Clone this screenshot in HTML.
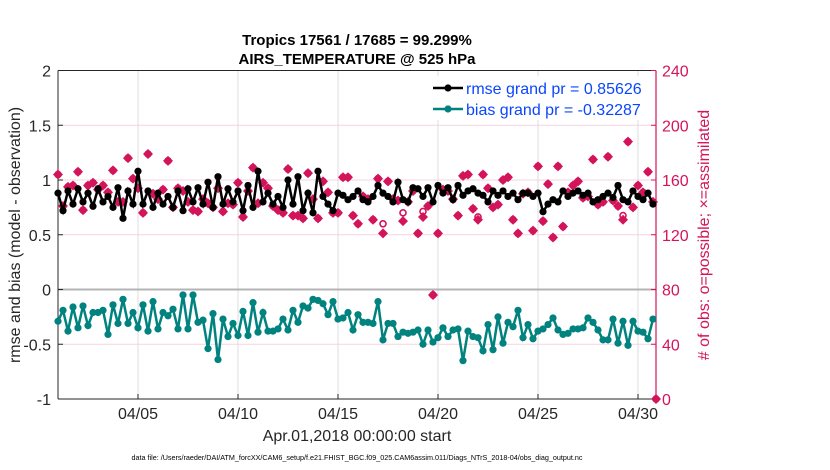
<!DOCTYPE html>
<html><head><meta charset="utf-8"><style>
body{margin:0;background:#fff;}
svg{display:block;font-family:"Liberation Sans",sans-serif;}
</style></head><body>
<svg id="chart" width="830" height="470" viewBox="0 0 830 470"></svg>
<script>
const rmse=[0.88,0.72,0.90,0.78,0.92,0.80,0.88,0.76,0.92,0.80,
0.85,0.75,0.93,0.65,0.90,0.78,1.08,0.78,0.90,0.75,
0.88,0.78,0.85,0.75,0.90,0.72,0.92,0.80,0.93,0.78,
0.98,0.75,1.03,0.78,0.92,0.80,0.90,0.72,0.95,0.75,
1.08,0.80,0.88,0.78,0.85,0.75,1.00,0.78,1.03,0.72,
0.88,0.70,1.08,0.85,0.78,0.72,0.88,0.86,0.82,0.85,
0.90,0.82,0.80,0.85,0.95,0.88,0.85,0.80,0.98,0.82,
0.80,0.93,0.92,0.85,0.93,0.80,0.95,0.88,0.93,0.82,
0.95,0.86,0.90,0.92,0.88,0.86,0.80,0.90,0.86,0.90,
0.85,0.88,0.82,0.88,0.88,0.85,0.88,0.71,0.78,0.82,
0.80,0.90,0.85,0.88,0.90,0.86,0.88,0.80,0.82,0.85,
0.88,0.84,0.95,0.82,0.80,0.90,0.85,0.82,0.88,0.78];
const bias=[-0.29,-0.19,-0.38,-0.16,-0.35,-0.15,-0.33,-0.21,-0.21,-0.19,
-0.41,-0.14,-0.31,-0.09,-0.31,-0.21,-0.35,-0.14,-0.38,-0.11,
-0.36,-0.21,-0.24,-0.18,-0.36,-0.05,-0.36,-0.05,-0.30,-0.28,
-0.54,-0.22,-0.64,-0.27,-0.43,-0.31,-0.42,-0.20,-0.42,-0.12,
-0.39,-0.21,-0.38,-0.38,-0.36,-0.27,-0.37,-0.19,-0.30,-0.15,
-0.17,-0.09,-0.10,-0.13,-0.23,-0.11,-0.27,-0.26,-0.21,-0.37,
-0.23,-0.30,-0.30,-0.31,-0.11,-0.46,-0.31,-0.31,-0.43,-0.39,
-0.40,-0.39,-0.37,-0.50,-0.37,-0.48,-0.44,-0.35,-0.43,-0.37,
-0.36,-0.65,-0.38,-0.43,-0.44,-0.56,-0.32,-0.55,-0.25,-0.49,
-0.30,-0.34,-0.19,-0.44,-0.32,-0.45,-0.38,-0.36,-0.32,-0.26,
-0.37,-0.41,-0.40,-0.36,-0.36,-0.35,-0.26,-0.30,-0.37,-0.46,
-0.46,-0.27,-0.49,-0.29,-0.51,-0.29,-0.38,-0.39,-0.45,-0.27];
const nAssim=[164,141,155,156,166,138,156,158,153,156,
151,167,144,144,176,161,154,136,179,150,
146,153,174,140,154,152,144,138,137,146,
143,140,154,137,143,142,158,133,152,169,
143,158,154,141,138,136,168,134,134,132,
165,146,132,159,151,136,136,162,162,134,
128,148,146,131,161,121,159,146,145,130,
144,152,121,133,141,76,121,153,152,146,
134,163,164,139,131,164,154,140,142,160,
162,131,121,150,151,123,170,130,157,118,
170,126,151,156,159,147,148,175,142,144,
177,145,141,131,188,140,156,151,166,144,0];
const nPoss=[164,141,155,156,166,138,156,158,153,156,
151,167,144,144,176,161,154,136,179,150,
146,153,174,140,154,152,144,138,137,146,
143,140,154,137,143,142,158,133,152,169,
143,158,154,141,138,136,168,134,134,132,
165,146,132,159,151,136,136,162,162,134,
128,148,146,131,161,128,159,146,145,136,
144,152,121,137,141,76,121,153,152,146,
134,163,164,139,133,164,154,140,142,160,
162,131,121,150,151,123,170,130,157,118,
170,126,151,156,159,147,148,175,142,144,
177,145,141,134,188,140,156,151,166,144,0];
const xTickDays=[4,9,14,19,24,29];
const xTickLabels=["04/05","04/10","04/15","04/20","04/25","04/30"];
const yTicks=[-1,-0.5,0,0.5,1,1.5,2];
const yTickLabels=["-1","-0.5","0","0.5","1","1.5","2"];
const rTicks=[0,40,80,120,160,200,240];

const L=58,R=656,T=70.5,B=399;
const XMIN=0,XMAX=29.9,STEP=0.25;
const xs=d=>L+(d-XMIN)/(XMAX-XMIN)*(R-L);
const ys=v=>B-(v-(-1))/3*(B-T);
const yr=c=>B-c/240*(B-T);
const MAG="#d4145a",TEAL="#00827f";
const svg=document.getElementById('chart');
const NS="http://www.w3.org/2000/svg";
function mk(tag,attrs,parent){const e=document.createElementNS(NS,tag);for(const k in attrs)e.setAttribute(k,attrs[k]);(parent||svg).appendChild(e);return e;}

// grid
const grid=mk('g',{});


xTickDays.forEach(d=>mk('line',{x1:xs(d),x2:xs(d),y1:T,y2:B,stroke:'#dcdcdc','stroke-width':1},grid));
yTicks.forEach(v=>{if(v!==0&&v!==-1&&v!==2)mk('line',{x1:L,x2:R,y1:ys(v),y2:ys(v),stroke:'#f6d3df','stroke-width':1},grid);});
const zl=mk('line',{x1:L,x2:R,y1:ys(0),y2:ys(0),stroke:'#b4b4b4','stroke-width':2});



// axes frame
const ax=mk('g',{});


mk('line',{x1:L,x2:R,y1:T,y2:T,stroke:'#262626','stroke-width':1},ax);
mk('line',{x1:L,x2:R,y1:B,y2:B,stroke:'#262626','stroke-width':1},ax);
mk('line',{x1:L,x2:L,y1:T,y2:B,stroke:'#262626','stroke-width':1},ax);
mk('line',{x1:R,x2:R,y1:T,y2:B,stroke:MAG,'stroke-width':1.2},ax);

// left ticks
yTicks.forEach((v,i)=>{
  mk('line',{x1:L,x2:L+5,y1:ys(v),y2:ys(v),stroke:'#262626'},ax);
  const t=mk('text',{x:L-7,y:ys(v)+6,'text-anchor':'end','font-size':16,fill:'#262626'});
  t.textContent=yTickLabels[i];
  
  
});
rTicks.forEach(c=>{
  mk('line',{x1:R-5,x2:R,y1:yr(c),y2:yr(c),stroke:MAG},ax);
  const t=mk('text',{x:R+6,y:yr(c)+6,'font-size':16,fill:MAG});
  t.textContent=String(c);
  
  
});
xTickDays.forEach((d,i)=>{
  mk('line',{x1:xs(d),x2:xs(d),y1:B-5,y2:B,stroke:'#262626'},ax);
  const t=mk('text',{x:xs(d),y:B+20,'text-anchor':'middle','font-size':16,fill:'#262626'});
  t.textContent=xTickLabels[i];
  
  
});

// obs markers
const og=mk('g',{});


nPoss.forEach((c,i)=>{
  const x=Math.min(xs(i*STEP),R);
  mk('circle',{cx:x,cy:yr(c),r:3,fill:'none',stroke:MAG,'stroke-width':1.6},og);
});
nAssim.forEach((c,i)=>{
  const x=Math.min(xs(i*STEP),R),y=yr(c);
  const p=mk('path',{d:`M${x-5},${y}L${x},${y-5}L${x+5},${y}L${x},${y+5}Z`,fill:MAG},og);
  
  
});

function series(arr,color,name){
  const g=mk('g',{});
  
  
  const pts=arr.map((v,i)=>xs(i*STEP)+','+ys(v)).join(' ');
  mk('polyline',{points:pts,fill:'none',stroke:color,'stroke-width':2.5},g);
  arr.forEach((v,i)=>mk('circle',{cx:xs(i*STEP),cy:ys(v),r:3.6,fill:color},g));
}
series(rmse,'#000','rmse-series');
series(bias,TEAL,'bias-series');

// legend
const lg=mk('g',{});


mk('rect',{x:422,y:76,width:232,height:44,fill:'#fff'},lg);
mk('line',{x1:433,x2:463,y1:88,y2:88,stroke:'#000','stroke-width':2.5},lg);
mk('circle',{cx:448,cy:88,r:3.6,fill:'#000'},lg);
mk('line',{x1:433,x2:463,y1:109,y2:109,stroke:TEAL,'stroke-width':2.5},lg);
mk('circle',{cx:448,cy:109,r:3.6,fill:TEAL},lg);
let t=mk('text',{x:466,y:94,'font-size':16,fill:'#0a46ff'},lg);t.textContent='rmse grand pr = 0.85626';


t=mk('text',{x:466,y:115,'font-size':16,fill:'#0a46ff'},lg);t.textContent='bias grand pr = -0.32287';



// titles
function txt(s,a,name){const e=mk('text',a);e.textContent=s;return e;}
txt('Tropics 17561 / 17685 = 99.299%',{x:357,y:45,'text-anchor':'middle','font-size':15,'font-weight':'bold',fill:'#000'},'chart-title');
txt('AIRS_TEMPERATURE @ 525 hPa',{x:357,y:64,'text-anchor':'middle','font-size':15,'font-weight':'bold',fill:'#000'},'chart-subtitle');
txt('Apr.01,2018 00:00:00 start',{x:357,y:441,'text-anchor':'middle','font-size':16,fill:'#262626'},'x-axis-title');
txt('data file: /Users/raeder/DAI/ATM_forcXX/CAM6_setup/f.e21.FHIST_BGC.f09_025.CAM6assim.011/Diags_NTrS_2018-04/obs_diag_output.nc',{x:357,y:460,'text-anchor':'middle','font-size':7.2,fill:'#000'},'data-file-note');
txt('rmse and bias (model - observation)',{x:0,y:0,'text-anchor':'middle','font-size':16,fill:'#262626',transform:'translate(20,235) rotate(-90)'},'y-axis-title');
txt('# of obs: o=possible; \u00d7=assimilated',{x:0,y:0,'text-anchor':'middle','font-size':16,fill:MAG,transform:'translate(709,235) rotate(-90)'},'right-axis-title');
</script>
</body></html>
